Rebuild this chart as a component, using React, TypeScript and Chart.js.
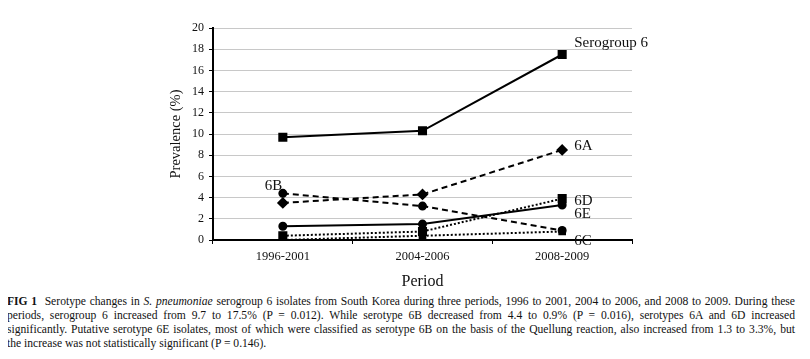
import React, { useEffect, useRef } from "react";
import { Chart, registerables } from "chart.js";

Chart.register(...registerables);

const categories = ["1996-2001", "2004-2006", "2008-2009"];
const serogroup6 = [9.7, 10.3, 17.5];
const sero6A = [3.5, 4.3, 8.5];
const sero6B = [4.4, 3.2, 0.9];
const sero6E = [1.3, 1.5, 3.3];
const sero6D = [0.4, 0.8, 3.9];
const sero6C = [0, 0.4, 0.8];
const yMin = 0;
const yMax = 20;
const yStep = 2;

const captionLines = [
  "Serotype changes in S. pneumoniae serogroup 6 isolates from South Korea during three periods, 1996 to 2001, 2004 to 2006, and 2008 to 2009. During these",
  "periods, serogroup 6 increased from 9.7 to 17.5% (P = 0.012). While serotype 6B decreased from 4.4 to 0.9% (P = 0.016), serotypes 6A and 6D increased",
  "significantly. Putative serotype 6E isolates, most of which were classified as serotype 6B on the basis of the Quellung reaction, also increased from 1.3 to 3.3%, but",
  "the increase was not statistically significant (P = 0.146).",
];

const FONT = "'Liberation Serif', 'Times New Roman', serif";

const labelPlugin = {
  id: "seriesLabels",
  afterDatasetsDraw(chart: any) {
    const ctx = chart.ctx;
    ctx.save();
    ctx.fillStyle = "#111";
    ctx.font = `15px ${FONT}`;
    ctx.textAlign = "left";
    ctx.textBaseline = "middle";
    chart.data.datasets.forEach((ds: any, i: number) => {
      const meta = chart.getDatasetMeta(i);
      const pt = meta.data[ds.labelIndex];
      if (!pt) return;
      ctx.fillText(ds.label, pt.x + ds.labelDx, pt.y + ds.labelDy);
    });
    ctx.restore();
  },
};

export default function App() {
  const ref = useRef<HTMLCanvasElement | null>(null);
  useEffect(() => {
    if (!ref.current) return;
    const base = {
      borderColor: "#000",
      backgroundColor: "#000",
      pointBackgroundColor: "#000",
      pointBorderColor: "#000",
      borderWidth: 2,
      tension: 0,
      fill: false,
    };
    const chart = new Chart(ref.current, {
      type: "line",
      data: {
        labels: categories,
        datasets: [
          { ...base, label: "Serogroup 6", data: serogroup6, pointStyle: "rect", pointRadius: 5, labelIndex: 2, labelDx: 12, labelDy: -11 },
          { ...base, label: "6A", data: sero6A, borderDash: [6, 4], pointStyle: "rectRot", pointRadius: 4.5, labelIndex: 2, labelDx: 12, labelDy: -4 },
          { ...base, label: "6B", data: sero6B, borderDash: [6, 4], pointStyle: "circle", pointRadius: 3.5, labelIndex: 0, labelDx: -18, labelDy: -7 },
          { ...base, label: "6E", data: sero6E, pointStyle: "circle", pointRadius: 3.5, labelIndex: 2, labelDx: 12, labelDy: 9 },
          { ...base, label: "6D", data: sero6D, borderDash: [2, 2], pointStyle: "rect", pointRadius: 5, labelIndex: 2, labelDx: 12, labelDy: 2 },
          { ...base, label: "6C", data: sero6C, borderDash: [2, 2], pointStyle: "rect", pointRadius: 4, labelIndex: 2, labelDx: 12, labelDy: 10 },
        ] as any,
      },
      options: {
        animation: false,
        responsive: false,
        maintainAspectRatio: false,
        layout: { padding: { left: 155, right: 170, top: 20, bottom: 0 } },
        plugins: { legend: { display: false }, tooltip: { enabled: false } },
        scales: {
          x: {
            offset: true,
            grid: { display: true, drawOnChartArea: false, drawTicks: true, tickLength: 4, tickColor: "#000", offset: true },
            border: { color: "#000", width: 2 },
            ticks: { color: "#111", font: { family: FONT, size: 12.5 }, padding: 5 },
            title: { display: true, text: "Period", color: "#111", font: { family: FONT, size: 16 }, padding: { top: 4, bottom: 4 } },
            afterFit: (s: any) => { s.height = 55; },
          },
          y: {
            min: yMin,
            max: yMax,
            ticks: { stepSize: yStep, color: "#111", font: { family: FONT, size: 12 }, padding: 5 },
            grid: { color: "#c8c8c8", lineWidth: 1, tickLength: 4, tickColor: "#000" },
            border: { color: "#000", width: 2 },
            title: { display: true, text: "Prevalence (%)", color: "#111", font: { family: FONT, size: 14.5 }, padding: { top: 4, bottom: 4 } },
            afterFit: (s: any) => { s.width = 50; },
          },
        },
      } as any,
      plugins: [labelPlugin],
    });
    return () => chart.destroy();
  }, []);

  return (
    <div style={{ width: 794, background: "#fff" }}>
      <canvas ref={ref} width={794} height={287} style={{ display: "block", width: 794, height: 287 }} />
      <div style={{ fontFamily: FONT, fontSize: 11.6, lineHeight: "14px", color: "#111", marginLeft: -1, width: 788 }}>
        {captionLines.map((line, i) => (
          <div
            key={i}
            style={{ textAlign: "justify", textAlignLast: i < captionLines.length - 1 ? "justify" : "left", whiteSpace: "nowrap" === "x" ? undefined : "normal" }}
          >
            {i === 0 ? (
              <>
                <b>FIG 1</b>&nbsp; Serotype changes in <i>S. pneumoniae</i>
                {line.slice("Serotype changes in S. pneumoniae".length)}
              </>
            ) : (
              line
            )}
          </div>
        ))}
      </div>
    </div>
  );
}
